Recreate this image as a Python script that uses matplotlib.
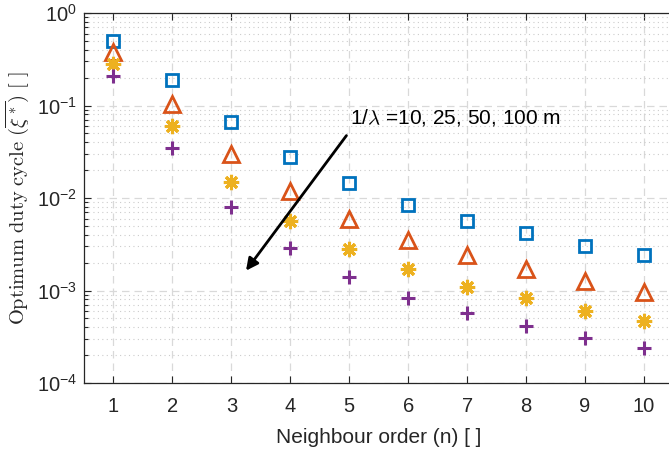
import numpy as np
import matplotlib
matplotlib.use("Agg")
import matplotlib.pyplot as plt
from matplotlib.ticker import LogLocator, NullFormatter

plt.rcParams["font.family"] = ["Liberation Sans", "DejaVu Sans"]
plt.rcParams["mathtext.fontset"] = "cm"

# data
n = [1, 2, 3, 4, 5, 6, 7, 8, 9, 10]
xi_10 = [0.50, 0.188, 0.066, 0.028, 0.0144, 0.0085, 0.0057, 0.0042, 0.0030, 0.0024]
xi_25 = [0.38, 0.103, 0.030, 0.0118, 0.0059, 0.0035, 0.0024, 0.0017, 0.00126, 0.00097]
xi_50 = [0.28, 0.060, 0.015, 0.0056, 0.0028, 0.0017, 0.0011, 0.00082, 0.00060, 0.00047]
xi_100 = [0.21, 0.035, 0.0079, 0.0029, 0.0014, 0.00083, 0.00057, 0.00041, 0.00031, 0.00024]

arrow_start = (4.98, 0.050)
arrow_end = (3.22, 0.00155)
label_pos = (5.02, 0.075)
label_text = r"1/$\lambda$ =10, 25, 50, 100 m"

fig = plt.figure(figsize=(6.69, 4.54), dpi=100)
# axes runs past the right edge of the figure, like the cropped original
ax = fig.add_axes([84 / 669, 1 - 383 / 454, 589.5 / 669, 370 / 454])

ax.plot(n, xi_10, linestyle="none", marker="s", markersize=8, markerfacecolor="none",
        markeredgecolor="#0072BD", markeredgewidth=2)
ax.plot(n, xi_25, linestyle="none", marker="^", markersize=11, markerfacecolor="none",
        markeredgecolor="#D95319", markeredgewidth=2)
ax.plot(n, xi_50, linestyle="none", marker=(8, 2, 0), markersize=11,
        markeredgecolor="#EDB120", markeredgewidth=2.2)
ax.plot(n, xi_100, linestyle="none", marker="+", markersize=10,
        markeredgecolor="#7E2F8E", markeredgewidth=2.2)

ax.annotate("", xy=arrow_end, xytext=arrow_start,
            arrowprops=dict(arrowstyle="-|>", color="black", lw=2, mutation_scale=18))
ax.text(label_pos[0], label_pos[1], label_text, fontsize=15, va="center", ha="left")

ax.set_yscale("log")
ax.set_ylim(1e-4, 1)
ax.set_xlim(0.5, 10.5)
ax.set_xticks(n)
ax.yaxis.set_major_locator(LogLocator(base=10, numticks=10))
ax.yaxis.set_minor_locator(LogLocator(base=10, subs=np.arange(2, 10), numticks=20))
ax.yaxis.set_minor_formatter(NullFormatter())

ax.grid(True, which="major", linestyle=(0, (6, 4)), color="#d9d9d9", linewidth=0.9)
ax.grid(True, which="minor", axis="y", linestyle=(0, (1, 3)), color="#cccccc", linewidth=0.8)
ax.set_axisbelow(True)

ax.tick_params(axis="both", which="both", direction="in", top=True, right=False,
               labelsize=14.5, colors="#262626", width=0.8)
ax.tick_params(axis="x", which="major", length=5, pad=10)
ax.tick_params(axis="y", which="major", length=5, pad=5)
ax.tick_params(axis="y", which="minor", length=3)
for s in ["left", "bottom", "top"]:
    ax.spines[s].set_color("#262626")
    ax.spines[s].set_linewidth(0.9)
ax.spines["right"].set_visible(False)

ax.set_xlabel("Neighbour order (n) [ ]", fontsize=15, color="#262626", labelpad=9)
ax.set_ylabel(r"$\mathrm{Optimum\ duty\ cycle}\ (\overline{\xi^*})\ [\ ]$", fontsize=14.75,
              color="#262626")
ax.yaxis.set_label_coords(-0.088, 0.5)

fig.savefig("out.png", dpi=100)
